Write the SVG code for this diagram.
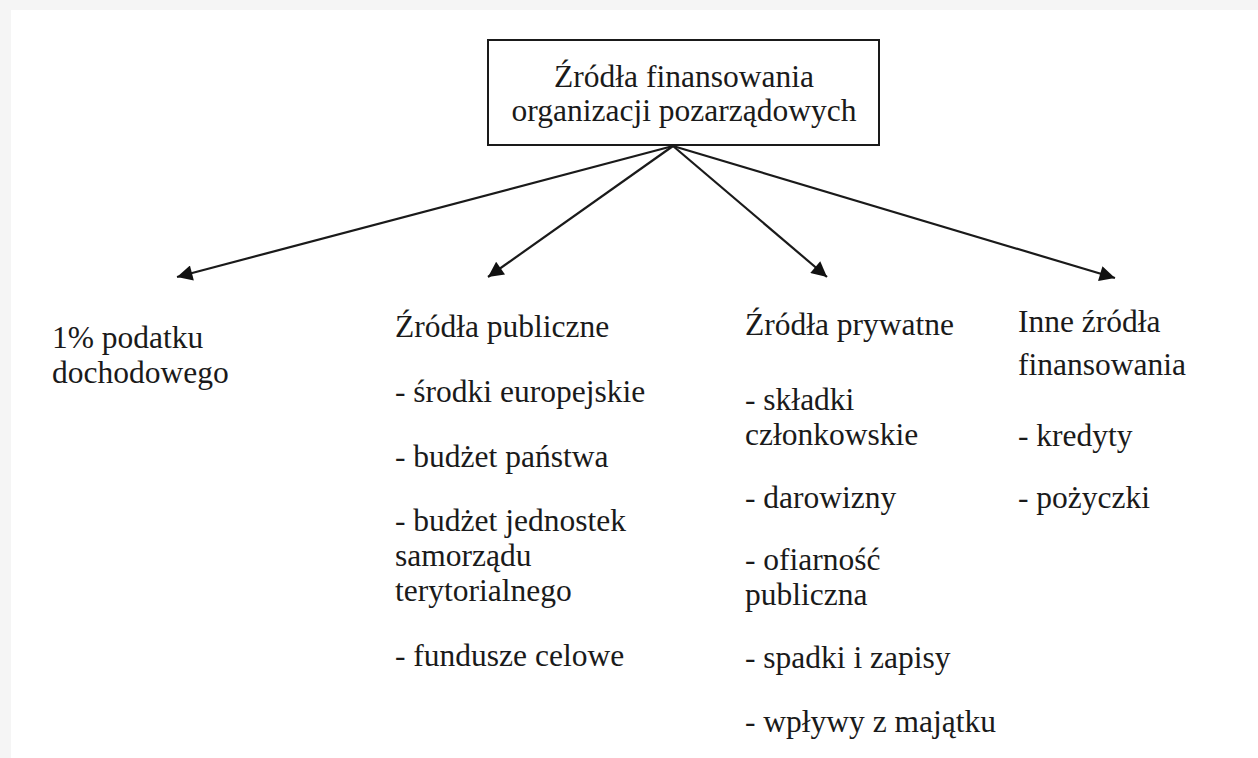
<svg xmlns="http://www.w3.org/2000/svg" width="1258" height="758" viewBox="0 0 1258 758">
<defs>
<style>
text{font-family:"Liberation Serif","Times New Roman",serif;font-size:31.5px;fill:#1a1a1a}
.c{text-anchor:middle}
.conn line{stroke:#1a1a1a;stroke-width:2.2}
</style>
<marker id="ah" viewBox="0 0 10 10" refX="10" refY="5" markerWidth="9" markerHeight="7" markerUnits="strokeWidth" orient="auto">
<path d="M0,0 L10,5 L0,10 Z" fill="#111"/>
</marker>
</defs>
<rect x="0" y="0" width="1258" height="758" fill="#f5f5f5"/>
<rect x="11" y="10" width="1247" height="748" fill="#ffffff"/>
<g id="root">
<rect x="488" y="40" width="391" height="105" fill="none" stroke="#1a1a1a" stroke-width="2"/>
<text class="c" x="684" y="87">Źródła finansowania</text>
<text class="c" x="684" y="121">organizacji pozarządowych</text>
</g>
<g id="tax">
<text x="52" y="348">1% podatku</text>
<text x="52" y="383">dochodowego</text>
</g>
<g id="public">
<text x="395" y="337">Źródła publiczne</text>
<text x="395" y="402">- środki europejskie</text>
<text x="395" y="467">- budżet państwa</text>
<text x="395" y="531">- budżet jednostek</text>
<text x="395" y="566">samorządu</text>
<text x="395" y="601">terytorialnego</text>
<text x="395" y="666">- fundusze celowe</text>
</g>
<g id="private">
<text x="745" y="335">Źródła prywatne</text>
<text x="745" y="410">- składki</text>
<text x="745" y="445">członkowskie</text>
<text x="745" y="508">- darowizny</text>
<text x="745" y="570">- ofiarność</text>
<text x="745" y="605">publiczna</text>
<text x="745" y="668">- spadki i zapisy</text>
<text x="745" y="732">- wpływy z majątku</text>
</g>
<g id="other">
<text x="1018" y="332">Inne źródła</text>
<text x="1018" y="375">finansowania</text>
<text x="1018" y="446">- kredyty</text>
<text x="1018" y="508">- pożyczki</text>
</g>
<g class="conn" id="connectors">
<line x1="673" y1="146" x2="177" y2="277" marker-end="url(#ah)"/>
<line x1="673" y1="146" x2="488" y2="277" marker-end="url(#ah)"/>
<line x1="673" y1="146" x2="827" y2="277" marker-end="url(#ah)"/>
<line x1="673" y1="146" x2="1115" y2="278" marker-end="url(#ah)"/>
</g>
</svg>
